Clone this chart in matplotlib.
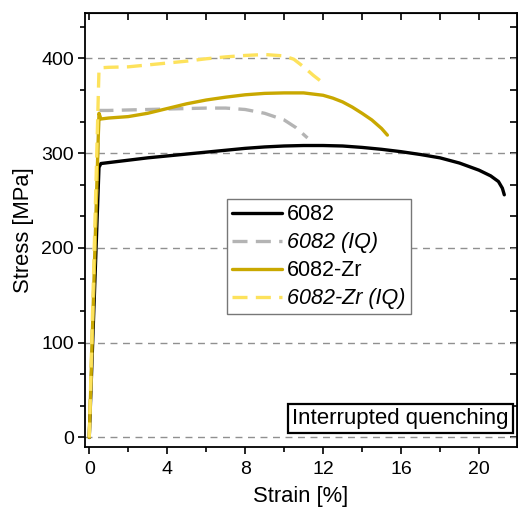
import matplotlib
matplotlib.use('Agg')
from matplotlib import pyplot as plt
from matplotlib.ticker import MultipleLocator, AutoMinorLocator

plt.rcParams['font.family'] = ['Liberation Sans', 'DejaVu Sans']

# 6082 (solid black)
strain_6082 = [0, 0.5, 0.6, 1, 2, 3, 4, 5, 6, 7, 8, 9, 10, 11, 12, 13, 14, 15, 16, 17, 18, 19, 20, 20.6, 21.0, 21.2, 21.3]
stress_6082 = [0, 285, 289, 290, 292.5, 295, 297, 299, 301, 303, 305, 306.5, 307.5, 308, 308, 307.5, 306, 304, 301.5, 298.5, 295, 289.5, 282, 276, 270, 263, 256]

# 6082 (IQ) (gray dashed)
strain_6082_iq = [0, 0.5, 0.6, 1, 2, 3, 4, 5, 6, 7, 8, 9, 10, 10.6, 11.2]
stress_6082_iq = [0, 345, 345, 345, 345.5, 346, 346.5, 347, 347.5, 347.5, 346, 342, 335, 327, 316]

# 6082-Zr (solid gold)
strain_zr = [0, 0.5, 0.6, 1, 2, 3, 4, 5, 6, 7, 8, 9, 10, 11, 12, 12.5, 13, 13.5, 14, 14.5, 15, 15.3]
stress_zr = [0, 342, 336, 337, 338.5, 342, 347, 352, 356, 359, 361.5, 363, 363.5, 363.5, 361, 358, 354, 348.5, 342, 335, 326, 319]

# 6082-Zr (IQ) (light yellow dashed)
strain_zr_iq = [0, 0.5, 0.6, 1, 2, 3, 4, 5, 6, 7, 8, 9, 10, 10.5, 11, 11.5, 12]
stress_zr_iq = [0, 388, 390, 390.5, 391, 393, 395, 397, 399.5, 401.5, 403, 404, 402.5, 399, 391, 382, 374]

fig = plt.figure(figsize=(5.18, 5.12), dpi=100)
ax = fig.add_axes([0.164, 0.127, 0.834, 0.848])

lw = 2.4
ax.plot(strain_6082, stress_6082, color='black', lw=lw, label='6082', solid_capstyle='round')
ax.plot(strain_6082_iq, stress_6082_iq, color='#b4b4b4', lw=lw, dashes=(4.5, 2.5), label='6082 (IQ)')
ax.plot(strain_zr, stress_zr, color='#c9a800', lw=lw, label='6082-Zr', solid_capstyle='round')
ax.plot(strain_zr_iq, stress_zr_iq, color='#fde25c', lw=lw, dashes=(4.5, 2.5), label='6082-Zr (IQ)')

ax.set_xlim(-0.22, 21.95)
ax.set_ylim(-10, 448)
ax.xaxis.set_major_locator(MultipleLocator(4))
ax.xaxis.set_minor_locator(AutoMinorLocator(2))
ax.yaxis.set_major_locator(MultipleLocator(100))
ax.yaxis.set_minor_locator(AutoMinorLocator(3))

ax.yaxis.grid(True, which='major', color='#909090', ls=(0, (5, 4)), lw=1)
ax.set_axisbelow(True)

for s in ax.spines.values():
    s.set_linewidth(1.3)

ax.tick_params(which='both', direction='out', width=1.2, labelsize=14,
               top=False, right=False)
ax.tick_params(axis='x', pad=5)
ax.tick_params(axis='y', pad=3)
ax.tick_params(which='major', length=5)
ax.tick_params(which='minor', length=3.5)

# mirrored inward ticks on top and right
sec_x = ax.secondary_xaxis('top')
sec_x.xaxis.set_major_locator(MultipleLocator(2))
sec_x.tick_params(direction='in', length=5, width=1.2, labeltop=False)
sec_y = ax.secondary_yaxis('right')
sec_y.yaxis.set_major_locator(MultipleLocator(100 / 3))
sec_y.tick_params(direction='in', length=5, width=1.2, labelright=False)

ax.set_xlabel('Strain [%]', fontsize=15.8, labelpad=6)
ax.set_ylabel('Stress [MPa]', fontsize=15.8, labelpad=5)

leg = ax.legend(loc='upper left', bbox_to_anchor=(0.328, 0.571), borderaxespad=0,
                fontsize=15.5, fancybox=False, edgecolor='#777777', framealpha=1,
                handlelength=2.3, handletextpad=0.25, labelspacing=0.32,
                borderpad=0.25)
leg.get_frame().set_linewidth(1.0)
for t in leg.get_texts():
    if 'IQ' in t.get_text():
        t.set_fontstyle('italic')

ax.text(0.981, 0.041, 'Interrupted quenching', transform=ax.transAxes,
        ha='right', va='bottom', fontsize=16.0,
        bbox=dict(boxstyle='square,pad=0.17', fc='white', ec='black', lw=1.6))

fig.savefig('out.png', dpi=100)
